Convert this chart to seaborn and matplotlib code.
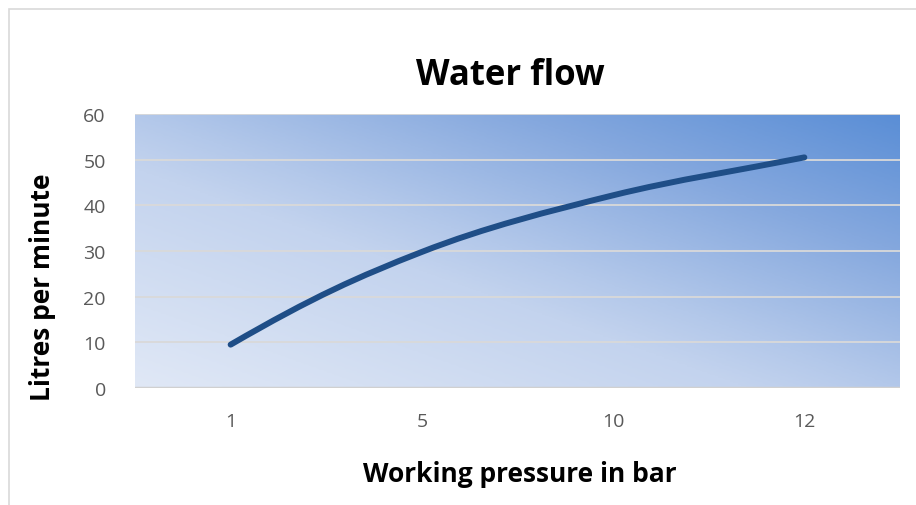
#!/usr/bin/env python3

import numpy as np
import pandas as pd
import matplotlib.pyplot as plt
from matplotlib.path import Path
from matplotlib.patches import PathPatch, Rectangle
from matplotlib.colors import LinearSegmentedColormap
import seaborn as sns

# Data
pressure = ['1', '5', '10', '12']
flow = [9.5, 29.8, 42.2, 50.5]
y_ticks = [0, 10, 20, 30, 40, 50, 60]

sns.set_theme(style='white')
plt.rcParams['font.family'] = ['Open Sans', 'DejaVu Sans']

df = pd.DataFrame({'idx': np.arange(len(pressure)), 'flow': flow})

fig = plt.figure(figsize=(9.16, 5.06), dpi=100)
ax = fig.add_axes([0.1474, 0.2312, 0.8351, 0.5415])

# gradient background of the plot area
cmap = LinearSegmentedColormap.from_list(
    'bg', [(0.0, '#e0e8f6'), (0.4, '#c3d3ee'), (0.5, '#b3c8ea'),
           (0.75, '#85a8de'), (1.0, '#5a8ed6')])
gx, gy = np.meshgrid(np.linspace(0, 1, 300), np.linspace(0, 1, 200))
grad = 0.5 * gx + 0.5 * gy
ax.imshow(grad, cmap=cmap, extent=[0, 1, 0, 1], origin='lower',
          transform=ax.transAxes, aspect='auto', zorder=0, vmin=0, vmax=1)

# seaborn places the series, then it is redrawn as a smoothed path
sns.lineplot(data=df, x='idx', y='flow', ax=ax, color='#1f4e87', linewidth=4.3)
line = ax.lines[-1]
pts = np.column_stack([line.get_xdata(), line.get_ydata()])
line.set_visible(False)
n = len(pts)
tang = np.zeros_like(pts)
for i in range(1, n - 1):
    tang[i] = (pts[i + 1] - pts[i - 1]) / 2
# end tangents: quadratic fit at the start, chord at the end
tang[0] = 1.3 * (-1.5 * pts[0] + 2 * pts[1] - 0.5 * pts[2])
tang[-1] = pts[-1] - pts[-2]
verts = [pts[0]]
codes = [Path.MOVETO]
for i in range(n - 1):
    verts += [pts[i] + tang[i] / 3, pts[i + 1] - tang[i + 1] / 3, pts[i + 1]]
    codes += [Path.CURVE4] * 3
ax.add_patch(PathPatch(Path(verts, codes), facecolor='none', edgecolor='#1f4e87',
                       linewidth=4.3, capstyle='round', zorder=3))

ax.set_xlim(-0.5, len(pressure) - 0.5)
ax.set_ylim(0, 60)
ax.set_xticks(range(len(pressure)))
ax.set_xticklabels(pressure)
ax.set_yticks(y_ticks)
for t in y_ticks[1:]:
    ax.axhline(t, color='#d9d9d9', linewidth=1.3, zorder=1)
ax.axhline(0, color='#d0d0d0', linewidth=2.5, zorder=2)
for s in ax.spines.values():
    s.set_visible(False)
ax.tick_params(axis='both', length=0, labelsize=14, labelcolor='#595959')
ax.tick_params(axis='x', pad=17)
ax.tick_params(axis='y', pad=21)
ax.set_xlabel('')
ax.set_ylabel('')

fig.text(0.557, 0.85, 'Water flow', ha='center', va='center',
         fontsize=25, fontweight='bold', color='black')
fig.text(0.568, 0.062, 'Working pressure in bar', ha='center', va='center',
         fontsize=19, fontweight='bold', color='black')
fig.text(0.046, 0.432, 'Litres per minute', ha='center', va='center',
         rotation=90, fontsize=19, fontweight='bold', color='black')

# chart area border
fig.patches.append(Rectangle((0.010, -0.01), 1.0, 0.99, transform=fig.transFigure,
                             fill=False, edgecolor='#d9d9d9', linewidth=1.2))

fig.savefig('out.png', dpi=100)
